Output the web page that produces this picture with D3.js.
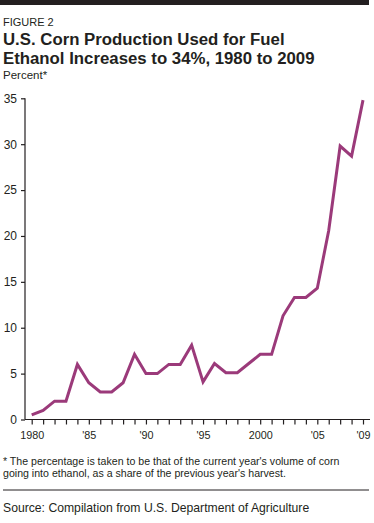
<!DOCTYPE html>
<html>
<head>
<meta charset="utf-8">
<script src="https://cdn.jsdelivr.net/npm/d3@7"></script>
<style>
  body { margin: 0; background: #fff; }
  text { font-family: "Liberation Sans", Arial, sans-serif; fill: #231f20; }
</style>
</head>
<body>
<div id="chart"></div>
<script>
var years = d3.range(1980, 2010);
var share = [
    0.5, 1.0, 2.0, 2.0, 6.0, 4.0, 3.0, 3.0, 4.0, 7.1,
    5.0, 5.0, 6.0, 6.0, 8.1, 4.1, 6.1, 5.1, 5.1, 6.1,
    7.1, 7.1, 11.3, 13.3, 13.3, 14.3, 20.6, 29.8, 28.7, 34.8
];
var yTicks = [0, 5, 10, 15, 20, 25, 30, 35];
var xLabels = { 1980: "1980", 1985: "'85", 1990: "'90", 1995: "'95", 2000: "2000", 2005: "'05", 2009: "'09" };

var width = 374, height = 523;

var svg = d3.select("#chart").append("svg")
    .attr("width", width)
    .attr("height", height);

// top bar
svg.append("rect")
    .attr("x", 0).attr("y", 0)
    .attr("width", 369).attr("height", 5)
    .attr("fill", "#231f20");

svg.append("text")
    .attr("x", 3).attr("y", 26)
    .style("font-size", "11px")
    .text("FIGURE 2");

var title = ["U.S. Corn Production Used for Fuel", "Ethanol Increases to 34%, 1980 to 2009"];
svg.selectAll("text.title")
    .data(title)
    .enter().append("text")
    .attr("class", "title")
    .attr("x", 3)
    .attr("y", (d, i) => 45 + i * 18.5)
    .style("font-size", "16.8px")
    .style("font-weight", "bold")
    .text(d => d);

svg.append("text")
    .attr("x", 3).attr("y", 79)
    .style("font-size", "11.5px")
    .text("Percent*");

var x = d3.scaleLinear()
    .domain([1980, 2009])
    .range([31.7, 363]);

var y = d3.scaleLinear()
    .domain([0, 35])
    .range([419.5, 98.3]);

// y axis
var yAxis = svg.append("g")
    .attr("transform", "translate(25,0)")
    .call(d3.axisLeft(y).tickValues(yTicks).tickSize(4).tickPadding(4));
yAxis.select(".domain").attr("d", "M0," + y(35) + "V" + y(0));
yAxis.selectAll(".tick text").style("font-size", "12px");

// x axis
var xAxis = svg.append("g")
    .attr("transform", "translate(0," + y(0) + ")")
    .call(d3.axisBottom(x).tickValues(years).tickSize(5).tickPadding(7)
        .tickFormat(d => xLabels[d] || ""));
xAxis.select(".domain").attr("d", "M25,0H370");
xAxis.selectAll(".tick text").style("font-size", "10.8px");

svg.selectAll(".tick line").attr("stroke", "#231f20").attr("stroke-width", 1.2);
svg.selectAll(".domain").attr("stroke", "#231f20").attr("stroke-width", 1.2);
svg.selectAll(".tick text")
    .style("font-family", "'Liberation Sans', Arial, sans-serif")
    .attr("fill", "#231f20");

var line = d3.line()
    .x((d, i) => x(years[i]))
    .y(d => y(d));

svg.append("path")
    .datum(share)
    .attr("d", line)
    .attr("fill", "none")
    .attr("stroke", "#9b3a7a")
    .attr("stroke-width", 3)
    .attr("stroke-linejoin", "miter");

var notes = [
    "* The percentage is taken to be that of the current year's volume of corn",
    "going into ethanol, as a share of the previous year's harvest."
];
svg.selectAll("text.note")
    .data(notes)
    .enter().append("text")
    .attr("class", "note")
    .attr("x", 3)
    .attr("y", (d, i) => 465 + i * 12)
    .style("font-size", "10.6px")
    .text(d => d);

svg.append("line")
    .attr("x1", 3).attr("x2", 369)
    .attr("y1", 490).attr("y2", 490)
    .attr("stroke", "#231f20")
    .attr("stroke-width", 1);

svg.append("text")
    .attr("x", 3).attr("y", 512)
    .style("font-size", "12.2px")
    .text("Source: Compilation from U.S. Department of Agriculture");
</script>
</body>
</html>
